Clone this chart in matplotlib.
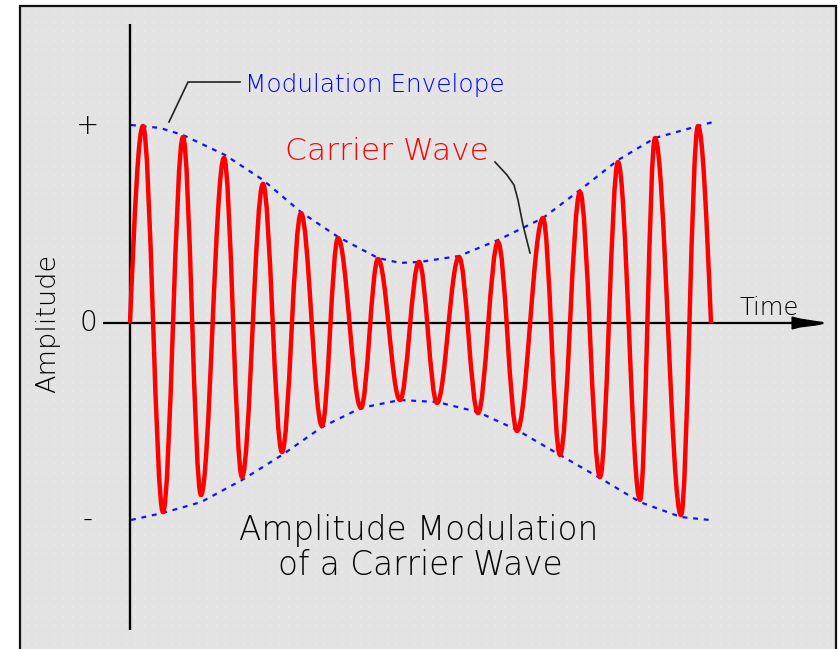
import matplotlib
matplotlib.use("Agg")
import matplotlib.pyplot as plt
from matplotlib.path import Path
from matplotlib.patches import PathPatch, Rectangle, Polygon
from matplotlib import transforms
import numpy as np

# ---------------- data ----------------
# carrier extrema: time (carrier cycles) and amplitude (+ = 1, - = -1)
carrier_t = [0.0, 0.325, 0.825, 1.325, 1.775, 2.35, 2.8, 3.325, 3.8, 4.275, 4.8,
             5.2, 5.775, 6.2, 6.75, 7.225, 7.675, 8.225, 8.7, 9.2, 9.675,
             10.325, 10.75, 11.25, 11.75, 12.2, 12.75, 13.125, 13.775, 14.2, 14.525]
carrier_a = [0.0, 1.0, -0.96, 0.944, -0.873, 0.838, -0.782, 0.706, -0.655, 0.558, -0.523,
             0.431, -0.431, 0.325, -0.391, 0.31, -0.406, 0.335, -0.457, 0.411, -0.548,
             0.533, -0.67, 0.665, -0.782, 0.817, -0.898, 0.939, -0.975, 1.0, 0.0]

upper_env_t = [0.025, 0.75, 1.325, 2.375, 3.325, 4.275, 5.2, 6.2, 6.75, 7.25,
               8.225, 9.2, 10.325, 11.25, 12.2, 13.125, 14.2, 14.575]
upper_env_a = [1.005, 0.99, 0.954, 0.853, 0.726, 0.563, 0.437, 0.33, 0.305, 0.31,
               0.34, 0.421, 0.533, 0.675, 0.827, 0.939, 1.0, 1.02]
lower_env_t = [0.025, 0.825, 1.775, 2.8, 3.8, 4.8, 5.775, 6.75, 7.675, 8.7,
               9.675, 10.75, 11.75, 12.75, 13.775, 14.5]
lower_env_a = [-1.0, -0.964, -0.909, -0.797, -0.67, -0.528, -0.431, -0.391, -0.401, -0.452,
               -0.543, -0.67, -0.787, -0.909, -0.985, -1.0]

amp_tick_labels = ["+", "0", "-"]
amp_tick_values = [1.0, 0.0, -1.0]

# ---------------- figure ----------------
W, H = 840, 649
fig = plt.figure(figsize=(W / 100, H / 100), dpi=100)
fig.patch.set_facecolor("white")
# pixel transform (origin top-left) for layout elements
pix = transforms.Affine2D().scale(1 / W, -1 / H).translate(0, 1) + fig.transFigure

# framed panel
fig.patches.append(Rectangle((20, 6), 816, 660, transform=pix, facecolor="#e3e3e3",
                             edgecolor="#111111", lw=1.6, zorder=0))
# faint dot texture of the panel
gx = np.arange(27, 836, 9)
gy = np.arange(13, 649, 9)
GX, GY = np.meshgrid(gx, gy)
fig.add_artist(plt.Line2D(GX.ravel(), GY.ravel(), transform=pix, ls="none",
                          marker="s", ms=1.1, mew=0, color="#eeeeee", zorder=0.5))

ax = fig.add_axes([0, 0, 1, 1])
ax.set_zorder(2)
ax.patch.set_visible(False)
ax.set_xlim((0 - 130) / 40, (W - 130) / 40)
ax.set_ylim((323 - H) / 197, 323 / 197)
ax.axis("off")

# axes lines
ax.plot([0, 0], [(323 - 24) / 197, (323 - 630) / 197], color="black", lw=1.7, zorder=2,
        solid_capstyle="butt")
ax.plot([(103 - 130) / 40, (823 - 130) / 40], [0, 0], color="black", lw=1.6, zorder=2,
        solid_capstyle="butt")
fig.add_artist(Polygon([(792, 317), (800, 319), (816, 321.5), (823, 322.5), (823, 323.5),
                        (816, 325), (800, 327), (792, 329)], closed=True, transform=pix,
                       facecolor="black", edgecolor="black", lw=0.8, zorder=3))

# modulation envelope
ax.plot(upper_env_t, upper_env_a, color="#1414f0", lw=1.6, ls=(0, (2.2, 2.6)), zorder=3)
ax.plot(lower_env_t, lower_env_a, color="#1414f0", lw=1.6, ls=(0, (2.2, 2.6)), zorder=3)

# carrier wave drawn as Bezier segments between its extrema
verts = [(carrier_t[0], carrier_a[0])]
codes = [Path.MOVETO]
c = 0.3634
for i in range(len(carrier_t) - 1):
    t0, a0, t1, a1 = carrier_t[i], carrier_a[i], carrier_t[i + 1], carrier_a[i + 1]
    dt = t1 - t0
    if a0 == 0:
        p1, p2 = (t0 + 0.35 * dt, 0.55 * a1), (t0 + 0.65 * dt, a1)
    elif a1 == 0:
        p1, p2 = (t0 + 0.35 * dt, a0), (t0 + 0.65 * dt, 0.55 * a0)
    else:
        p1, p2 = (t0 + c * dt, a0), (t1 - c * dt, a1)
    verts += [p1, p2, (t1, a1)]
    codes += [Path.CURVE4] * 3
ax.add_patch(PathPatch(Path(verts, codes), fill=False, edgecolor="#ff0000", lw=3.2,
                       joinstyle="round", zorder=4))

# leader lines
fig.add_artist(plt.Line2D([169, 188, 240], [122, 82, 82], transform=pix, color="#222222",
                          lw=1.2, zorder=3))
fig.add_artist(plt.Line2D([495, 507, 514, 518, 523, 530], [162, 175, 185, 200, 225, 253],
                          transform=pix, color="#222222", lw=1.2, zorder=3))

font = "DejaVu Sans"
wt = "light"
# amplitude tick labels
for lab, v in zip(amp_tick_labels, amp_tick_values):
    ax.text(-1.05, v, lab, ha="center", va="center", fontsize=20, family=font,
            weight=wt, color="black", zorder=5)

fig.text(48, 323, "Amplitude", transform=pix, rotation=90, ha="center", va="center",
         fontsize=19.5, family=font, weight=wt, color="black")
fig.text(740, 315, "Time", transform=pix, ha="left", va="baseline", fontsize=17.5,
         family=font, weight=wt, color="black")
fig.text(245, 92, "Modulation Envelope", transform=pix, ha="left", va="baseline",
         fontsize=17.8, family=font, weight=wt, color="#0000ff")
fig.text(285, 160, "Carrier Wave", transform=pix, ha="left", va="baseline",
         fontsize=22.5, family=font, weight=wt, color="#ff0000")
fig.text(419, 540, "Amplitude Modulation", transform=pix, ha="center", va="baseline",
         fontsize=23.5, family=font, weight=wt, color="black")
fig.text(420, 575, "of a Carrier Wave", transform=pix, ha="center", va="baseline",
         fontsize=23.5, family=font, weight=wt, color="black")

fig.savefig("out.png", dpi=100)
